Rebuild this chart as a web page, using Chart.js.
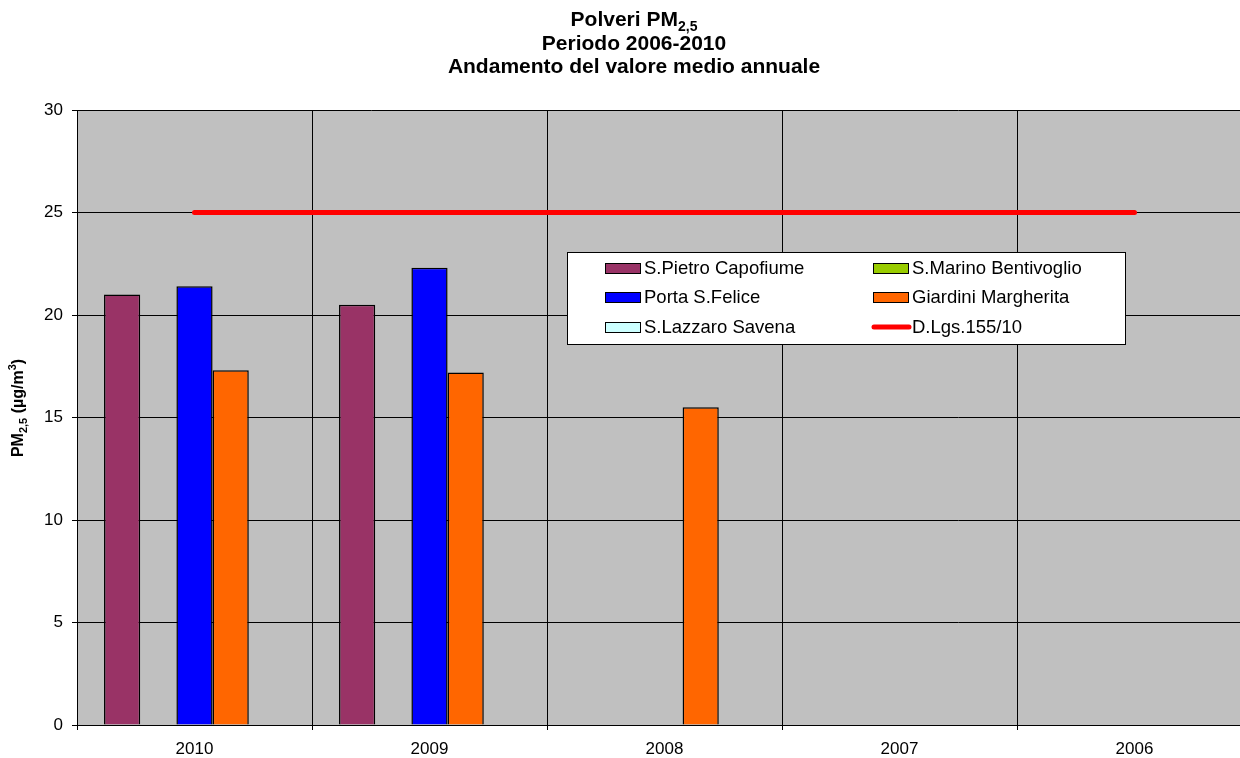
<!DOCTYPE html>
<html lang="it">
<head>
<meta charset="utf-8">
<title>Polveri PM2,5 - Periodo 2006-2010</title>
<script src="https://cdn.jsdelivr.net/npm/chart.js@4.4.0/dist/chart.umd.min.js"></script>
<style>
    html, body { margin: 0; padding: 0; background: #fff; overflow: hidden; }
    #contenitore { width: 1252px; height: 758px; }
</style>
</head>
<body>
<div id="contenitore">
    <canvas id="graficoPM25" width="1252" height="758"></canvas>
</div>
<script>
// anni sull'asse x (dal più recente)
const anni = ['2010', '2009', '2008', '2007', '2006'];

// medie annuali per stazione (µg/m3)
const sPietroCapofiume = [21.0, 20.5, null, null, null];
const sMarinoBentivoglio = [null, null, null, null, null];
const portaSFelice = [21.4, 22.3, null, null, null];
const giardiniMargherita = [17.3, 17.2, 15.5, null, null];
const sLazzaroSavena = [null, null, null, null, null];

// valore limite D.Lgs.155/10
const limiteDlgs = [25, 25, 25, 25, 25];

const yMin = 0;
const yMax = 30;
const yPasso = 5;

const FONT = "'Liberation Sans', Arial, sans-serif";

// scrive una riga di testo con pedici / apici
function testoRicco(ctx, parti, x, y, size, bold, align) {
    const peso = bold ? 'bold ' : '';
    let larghezza = 0;
    parti.forEach(p => {
        const s = p.tipo ? Math.round(size * 0.68) : size;
        ctx.font = peso + s + 'px ' + FONT;
        larghezza += ctx.measureText(p.t).width;
    });
    let cx = align === 'center' ? x - larghezza / 2 : x;
    ctx.textBaseline = 'middle';
    ctx.textAlign = 'left';
    parti.forEach(p => {
        const s = p.tipo ? Math.round(size * 0.68) : size;
        ctx.font = peso + s + 'px ' + FONT;
        let dy = 0;
        if (p.tipo === 'sub') dy = size * 0.32;
        if (p.tipo === 'sup') dy = -size * 0.38;
        ctx.fillText(p.t, cx, y + dy);
        cx += ctx.measureText(p.t).width;
    });
}

const titoli = {
    id: 'titoli',
    afterDraw(chart) {
        const ctx = chart.ctx;
        ctx.save();
        ctx.fillStyle = '#000';
        const cx = 634;
        testoRicco(ctx, [{ t: 'Polveri PM' }, { t: '2,5', tipo: 'sub' }], cx, 20, 21, true, 'center');
        testoRicco(ctx, [{ t: 'Periodo 2006-2010' }], cx, 44, 21, true, 'center');
        testoRicco(ctx, [{ t: 'Andamento del valore medio annuale' }], cx, 67, 21, true, 'center');

        // titolo asse y, ruotato
        ctx.translate(19, 408);
        ctx.rotate(-Math.PI / 2);
        testoRicco(ctx, [{ t: 'PM' }, { t: '2,5', tipo: 'sub' }, { t: ' (µg/m' }, { t: '3', tipo: 'sup' }, { t: ')' }], 0, 0, 16, true, 'center');
        ctx.restore();
    }
};

// legenda a due colonne dentro l'area del grafico
const legendaInterna = {
    id: 'legendaInterna',
    afterDraw(chart) {
        const ctx = chart.ctx;
        const box = { x: 567, y: 252, w: 558, h: 92 };
        ctx.save();
        ctx.fillStyle = '#fff';
        ctx.fillRect(box.x, box.y, box.w, box.h);
        ctx.strokeStyle = '#000';
        ctx.lineWidth = 1;
        ctx.strokeRect(box.x + 0.5, box.y + 0.5, box.w, box.h);

        const colonne = [605, 873];
        const righe = [268, 297, 327];
        ctx.font = '18.5px ' + FONT;
        ctx.textBaseline = 'middle';
        ctx.textAlign = 'left';
        chart.data.datasets.forEach((ds, i) => {
            const x = colonne[i % 2];
            const y = righe[Math.floor(i / 2)];
            if (ds.type === 'line') {
                ctx.strokeStyle = ds.borderColor;
                ctx.lineWidth = 5;
                ctx.lineCap = 'round';
                ctx.beginPath();
                ctx.moveTo(x + 1, y);
                ctx.lineTo(x + 36, y);
                ctx.stroke();
            } else {
                ctx.fillStyle = ds.backgroundColor;
                ctx.fillRect(x, y - 5, 36, 11);
                ctx.strokeStyle = '#000';
                ctx.lineWidth = 1;
                ctx.strokeRect(x + 0.5, y - 5 + 0.5, 35, 10);
            }
            ctx.fillStyle = '#000';
            ctx.fillText(ds.label, x + 39, y + 1);
        });
        ctx.restore();
    }
};

// sfondo grigio dell'area del grafico
const sfondoArea = {
    id: 'sfondoArea',
    beforeDraw(chart) {
        const a = chart.chartArea;
        const ctx = chart.ctx;
        ctx.save();
        ctx.fillStyle = '#C0C0C0';
        ctx.fillRect(a.left, a.top, a.right - a.left, a.bottom - a.top);
        ctx.restore();
    }
};

function barra(label, dati, colore) {
    return {
        type: 'bar',
        label: label,
        data: dati,
        backgroundColor: colore,
        borderColor: '#000',
        borderWidth: 1.5,
        categoryPercentage: 0.77,
        barPercentage: 1.0,
        order: 2
    };
}

const ctx = document.getElementById('graficoPM25').getContext('2d');
new Chart(ctx, {
    data: {
        labels: anni,
        datasets: [
            barra('S.Pietro Capofiume', sPietroCapofiume, '#993366'),
            barra('S.Marino Bentivoglio', sMarinoBentivoglio, '#99CC00'),
            barra('Porta S.Felice', portaSFelice, '#0000FF'),
            barra('Giardini Margherita', giardiniMargherita, '#FF6600'),
            barra('S.Lazzaro Savena', sLazzaroSavena, '#CCFFFF'),
            {
                type: 'line',
                label: 'D.Lgs.155/10',
                data: limiteDlgs,
                borderColor: '#FF0000',
                backgroundColor: '#FF0000',
                borderWidth: 5,
                borderCapStyle: 'round',
                pointRadius: 0,
                fill: false,
                order: 1
            }
        ]
    },
    options: {
        responsive: false,
        animation: false,
        devicePixelRatio: 1,
        layout: { padding: { top: 110, left: 0, right: 0, bottom: 0 } },
        plugins: {
            legend: { display: false },
            tooltip: { enabled: false },
            title: { display: false }
        },
        scales: {
            x: {
                offset: true,
                grid: {
                    offset: true,
                    color: '#000',
                    lineWidth: 1,
                    drawTicks: true,
                    tickLength: 5
                },
                border: { color: '#000', width: 1 },
                ticks: {
                    color: '#000',
                    font: { family: FONT, size: 17 },
                    padding: 9,
                    maxRotation: 0
                },
                afterFit(scale) { scale.height = 33; }
            },
            y: {
                min: yMin,
                max: yMax,
                grid: {
                    color: '#000',
                    lineWidth: 1,
                    drawTicks: true,
                    tickLength: 5
                },
                border: { color: '#000', width: 1 },
                ticks: {
                    stepSize: yPasso,
                    color: '#000',
                    font: { family: FONT, size: 17 },
                    padding: 9
                },
                afterFit(scale) { scale.width = 77; }
            }
        }
    },
    plugins: [sfondoArea, titoli, legendaInterna]
});
</script>
</body>
</html>
